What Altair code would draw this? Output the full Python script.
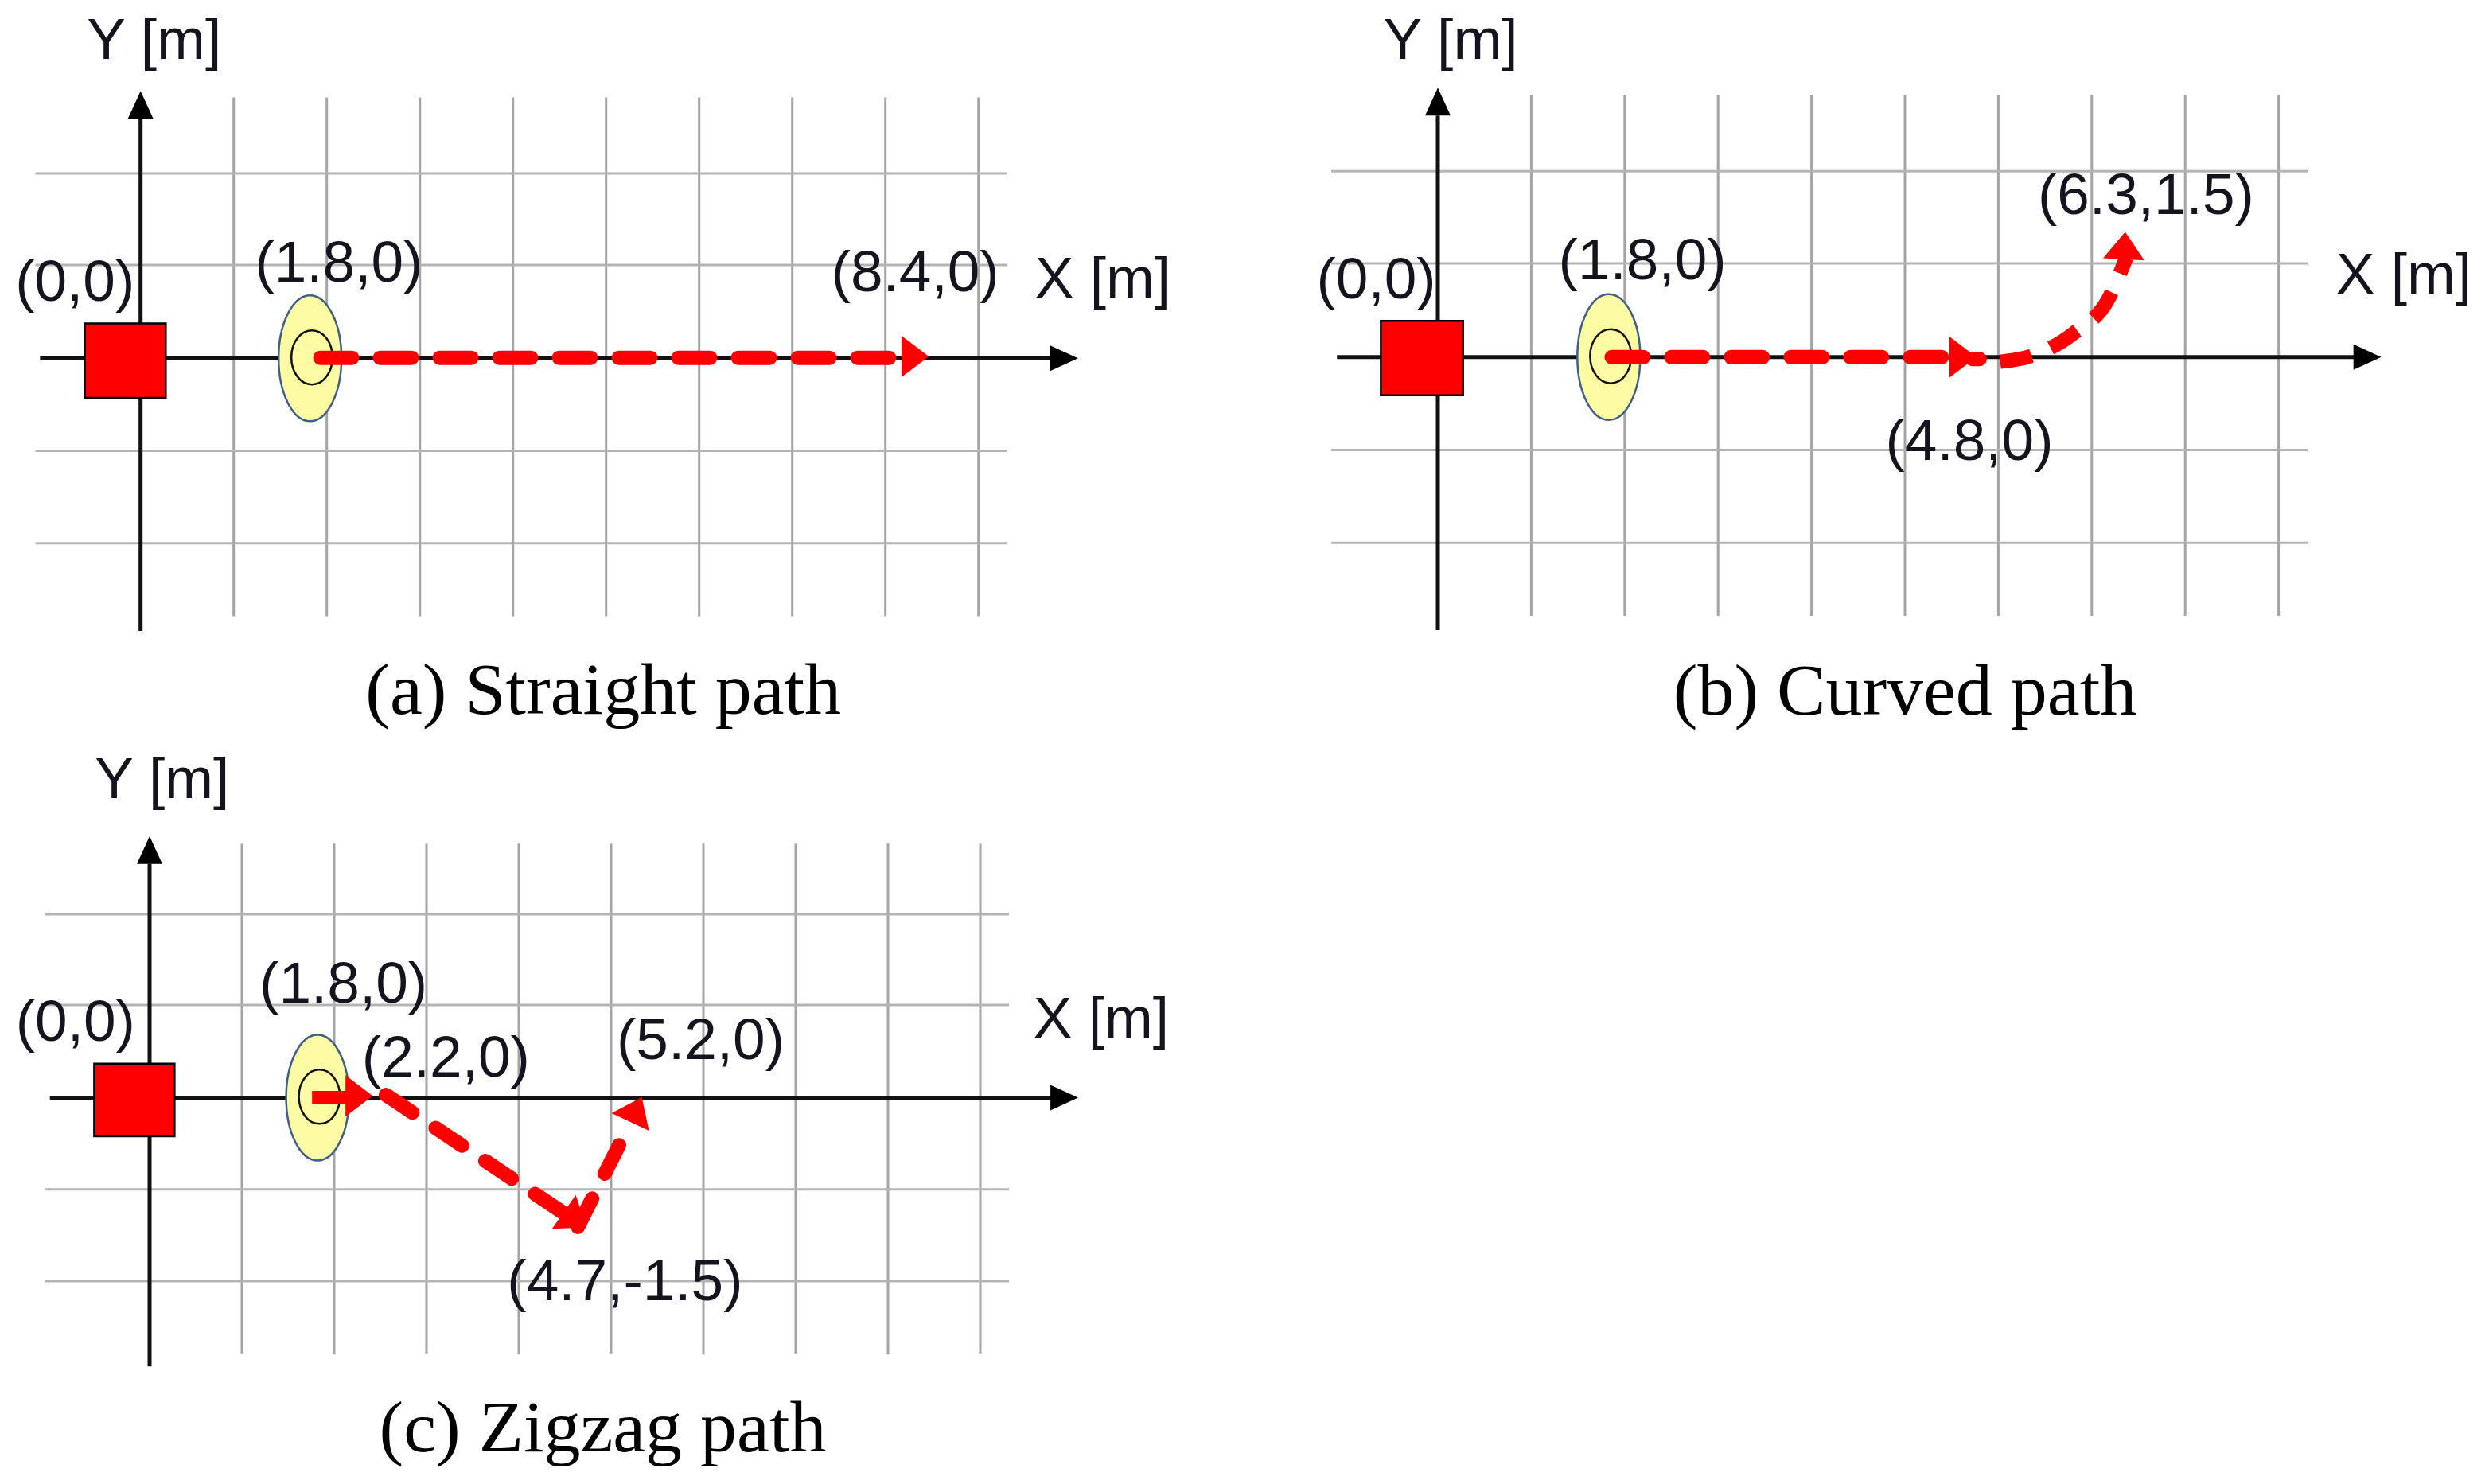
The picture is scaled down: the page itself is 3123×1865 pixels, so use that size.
import altair as alt
import pandas as pd

# ---- Shared grid cell values (metres)
GRID_X = [1, 2, 3, 4, 5, 6, 7, 8, 9]
GRID_Y = [2, 1.01, -1, -2]

# ---- Panel (a)
A_TEXT = ["Y [m]", "(0,0)", "(1.8,0)", "(8.4,0)", "X [m]"]
A_TEXT_X = [0.145, -0.705, 2.13, 8.32, 10.335]
A_TEXT_Y = [3.43, 0.81, 1.015, 0.915, 0.846]
A_TITLE = ["(a) Straight path"]
A_TITLE_X, A_TITLE_Y = [4.97], [-3.60]
A_SEG_X = [[1.93, 8.05]]
A_SEG_Y = [[0.005, 0.005]]
A_HEAD_X, A_HEAD_Y, A_HEAD_ANGLE = [8.32], [0.02], [90]

# ---- Panel (b)
B_TEXT = ["Y [m]", "(0,0)", "(1.8,0)", "(6.3,1.5)", "X [m]", "(4.8,0)"]
B_TEXT_X = [0.136, -0.66, 2.19, 7.58, 10.34, 5.69]
B_TEXT_Y = [3.40, 0.82, 1.03, 1.73, 0.87, -0.92]
B_TITLE = ["(b) Curved path"]
B_TITLE_X, B_TITLE_Y = [5.0], [-3.61]
B_SEG_X = [[1.86, 5.50], [5.72, 5.80]]
B_SEG_Y = [[0.0, 0.0], [-0.02, -0.02]]
B_CURVE_X = [6.02, 6.31, 6.81, 7.18, 7.37]
B_CURVE_Y = [-0.05, 0.0, 0.26, 0.63, 1.07]
B_HEAD_X, B_HEAD_Y, B_HEAD_ANGLE = [5.62, 7.35], [0.0, 1.20], [90, 3]

# ---- Panel (c)
C_TEXT = ["Y [m]", "(0,0)", "(1.8,0)", "(2.2,0)", "(5.2,0)", "X [m]", "(4.7,-1.5)"]
C_TEXT_X = [0.137, -0.803, 2.10, 3.21, 5.97, 10.31, 5.15]
C_TEXT_Y = [3.454, 0.814, 1.225, 0.42, 0.61, 0.85, -2.02]
C_TITLE = ["(c) Zigzag path"]
C_TITLE_X, C_TITLE_Y = [4.91], [-3.61]
C_SOLID_X = [1.76, 2.15]
C_SOLID_Y = [0.0, 0.0]
C_SEG_X = [[2.56, 4.55], [4.64, 5.13]]
C_SEG_Y = [[0.03, -1.30], [-1.41, -0.43]]
C_HEAD_X, C_HEAD_Y, C_HEAD_ANGLE = [2.27, 4.61, 5.27], [0.02, -1.33, -0.13], [90, 125, 25]

ELLIPSE_OUTER = "M0,-1 A0.5,1 0 1,1 0,1 A0.5,1 0 1,1 0,-1 Z"
ELLIPSE_INNER = "M0,-1 A0.76,1 0 1,1 0,1 A0.76,1 0 1,1 0,-1 Z"
HEAD_RED = "M0,-0.66 L1,0.66 L-1,0.66 Z"
HEAD_BLACK = "M0,-1.09 L1,1.09 L-1,1.09 Z"

SANS = "Liberation Sans"
SERIF = "Liberation Serif"
INK = "#14141e"
RED = "#ff0000"


def panel(width, height, xdom, ydom, vrange, hrange, xaxis, yaxis, xhead, yhead,
          rect, ell, inner, texts, title, segs, heads, curve=None, solid=None):
    xs = alt.Scale(domain=xdom, nice=False, zero=False)
    ys = alt.Scale(domain=ydom, nice=False, zero=False)
    X = alt.X("x:Q", scale=xs, axis=None)
    Y = alt.Y("y:Q", scale=ys, axis=None)

    v = pd.DataFrame({"x": GRID_X, "y": vrange[0], "y2": vrange[1]})
    h = pd.DataFrame({"y": GRID_Y, "x": hrange[0], "x2": hrange[1]})
    layers = [
        alt.Chart(v).mark_rule(color="#a4a4a4", strokeWidth=3).encode(x=X, y=Y, y2="y2:Q"),
        alt.Chart(h).mark_rule(color="#b4b4b4", strokeWidth=3).encode(y=Y, x=X, x2="x2:Q"),
    ]
    ax = pd.DataFrame({"x": [xaxis[0], yaxis[0]], "x2": [xaxis[1], yaxis[0]],
                       "y": [xaxis[2], yaxis[1]], "y2": [xaxis[3], yaxis[2]]})
    layers.append(alt.Chart(ax).mark_rule(color="#111111", strokeWidth=5).encode(x=X, x2="x2:Q", y=Y, y2="y2:Q"))
    hd = pd.DataFrame({"x": [xhead[0], yhead[0]], "y": [xhead[1], yhead[1]], "a": [90, 0]})
    layers.append(alt.Chart(hd).mark_point(shape=HEAD_BLACK, filled=True, color="#000000", size=1024, opacity=1)
                  .encode(x=X, y=Y, angle=alt.Angle("a:Q", scale=None)))
    el = pd.DataFrame({"x": [ell[0]], "y": [ell[1]]})
    layers.append(alt.Chart(el).mark_point(shape=ELLIPSE_OUTER, filled=True, fill="#fdfca4", stroke="#3f5f86",
                                           strokeWidth=2.5, size=25000, opacity=1).encode(x=X, y=Y))
    il = pd.DataFrame({"x": [inner[0]], "y": [inner[1]]})
    layers.append(alt.Chart(il).mark_point(shape=ELLIPSE_INNER, filled=False, stroke="#111111",
                                           strokeWidth=2.5, size=4624, opacity=1).encode(x=X, y=Y))

    rows = []
    for i, (sx, sy) in enumerate(segs):
        rows += [{"x": a, "y": b, "s": i, "o": k} for k, (a, b) in enumerate(zip(sx, sy))]
    layers.append(alt.Chart(pd.DataFrame(rows)).mark_line(color=RED, strokeWidth=18, strokeDash=[40, 35], strokeCap="round")
                  .encode(x=X, y=Y, detail="s:N", order="o:Q"))
    if curve is not None:
        cd = pd.DataFrame({"x": curve[0], "y": curve[1], "o": range(len(curve[0]))})
        layers.append(alt.Chart(cd).mark_line(color=RED, strokeWidth=18, strokeDash=[40, 26], interpolate="monotone")
                      .encode(x=X, y=Y, order="o:Q"))
    if solid is not None:
        sd = pd.DataFrame({"x": solid[0], "y": solid[1], "o": range(len(solid[0]))})
        layers.append(alt.Chart(sd).mark_line(color=RED, strokeWidth=17).encode(x=X, y=Y, order="o:Q"))
    hr = pd.DataFrame({"x": heads[0], "y": heads[1], "a": heads[2]})
    layers.append(alt.Chart(hr).mark_point(shape=HEAD_RED, filled=True, color=RED, size=2700, opacity=1)
                  .encode(x=X, y=Y, angle=alt.Angle("a:Q", scale=None)))
    rc = pd.DataFrame({"x": [rect[0]], "x2": [rect[1]], "y": [rect[2]], "y2": [rect[3]]})
    layers.append(alt.Chart(rc).mark_rect(fill=RED, stroke="#000000", strokeWidth=2.5)
                  .encode(x=X, x2="x2:Q", y=Y, y2="y2:Q"))
    td = pd.DataFrame({"x": texts[1], "y": texts[2], "t": texts[0]})
    layers.append(alt.Chart(td).mark_text(font=SANS, fontSize=73, color=INK, align="center", baseline="middle")
                  .encode(x=X, y=Y, text="t:N"))
    tt = pd.DataFrame({"x": title[1], "y": title[2], "t": title[0]})
    layers.append(alt.Chart(tt).mark_text(font=SERIF, fontSize=92, color="#000000", align="center", baseline="middle")
                  .encode(x=X, y=Y, text="t:N"))
    return alt.layer(*layers).properties(width=width, height=height)


a = panel(1552, 912, [-1.4419, 11.823], [-4.0422, 3.8064], (2.82, -2.79), (-1.13, 9.31),
          (-1.08, 9.87, 0.0, 0.0), (0.0, 2.6, -2.95), (9.92, 0.0), (0.0, 2.74),
          (-0.60, 0.27, 0.376, -0.427), (1.82, 0.0), (1.84, 0.01),
          (A_TEXT, A_TEXT_X, A_TEXT_Y), (A_TITLE, A_TITLE_X, A_TITLE_Y),
          list(zip(A_SEG_X, A_SEG_Y)), (A_HEAD_X, A_HEAD_Y, A_HEAD_ANGLE))

b = panel(1515, 912, [-1.7632, 11.1414], [-4.036, 3.7756], (2.82, -2.785), (-1.14, 9.31),
          (-1.08, 9.9, 0.0, 0.0), (0.0, 2.6, -2.94), (9.95, 0.0), (0.0, 2.75),
          (-0.61, 0.27, 0.39, -0.41), (1.83, 0.0), (1.85, 0.01),
          (B_TEXT, B_TEXT_X, B_TEXT_Y), (B_TITLE, B_TITLE_X, B_TITLE_Y),
          list(zip(B_SEG_X, B_SEG_Y)), (B_HEAD_X, B_HEAD_Y, B_HEAD_ANGLE),
          curve=(B_CURVE_X, B_CURVE_Y))

c = panel(1552, 927, [-1.5517, 11.8276], [-4.1432, 3.9002], (2.77, -2.79), (-1.13, 9.31),
          (-1.08, 9.87, 0.0, 0.0), (0.0, 2.55, -2.93), (9.91, 0.0), (0.0, 2.70),
          (-0.60, 0.27, 0.37, -0.42), (1.82, 0.0), (1.84, 0.01),
          (C_TEXT, C_TEXT_X, C_TEXT_Y), (C_TITLE, C_TITLE_X, C_TITLE_Y),
          list(zip(C_SEG_X, C_SEG_Y)), (C_HEAD_X, C_HEAD_Y, C_HEAD_ANGLE),
          solid=(C_SOLID_X, C_SOLID_Y))

chart = (
    alt.vconcat(alt.hconcat(a, b, spacing=40), c, spacing=10)
    .properties(padding=0, background="white")
    .configure_view(stroke=None)
)
chart.save("out.html", embed_options={"renderer": "svg", "actions": False})
